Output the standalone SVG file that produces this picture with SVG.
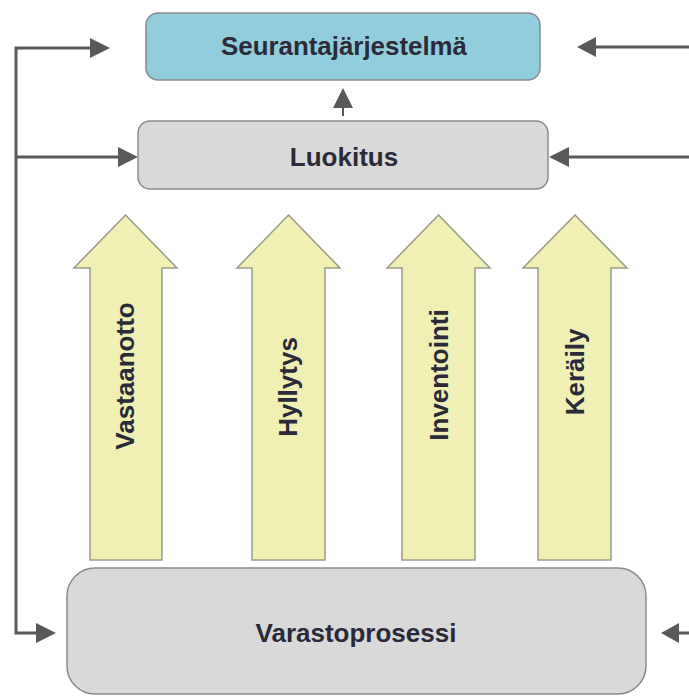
<svg xmlns="http://www.w3.org/2000/svg" width="689" height="696" viewBox="0 0 689 696">
<defs>
<style>
.lbl{font-family:"Liberation Sans",Arial,sans-serif;font-weight:bold;font-size:26px;fill:#2a2a3a;text-anchor:middle}
.box{stroke:#8a8a8a;stroke-width:1.5}
.blk{fill:#F0F0B4;stroke:#9a9a8a;stroke-width:1.5}
.con{fill:none;stroke:#595959;stroke-width:3}
.head{fill:#595959}
</style>
</defs>
<rect width="689" height="696" fill="#ffffff"/>
<g id="connectors">
<polyline class="con" points="92,48 16,48 16,633 38,633"/>
<line class="con" x1="16" y1="157" x2="120" y2="157"/>
<polygon class="head" points="110,48 90,38 90,58"/>
<polygon class="head" points="138,157 118,147 118,167"/>
<polygon class="head" points="56,633 36,623 36,643"/>
<line class="con" x1="689" y1="47" x2="593" y2="47"/>
<polygon class="head" points="577,47 596,37 596,57"/>
<line class="con" x1="689" y1="157" x2="566" y2="157"/>
<polygon class="head" points="549,157 569,147 569,167"/>
<line class="con" x1="689" y1="633" x2="677" y2="633"/>
<polygon class="head" points="661,633 679,623 679,643"/>
<line x1="343" y1="116" x2="343" y2="104" stroke="#595959" stroke-width="2"/>
<polygon class="head" points="343,88 333,108 353,108"/>
</g>
<g id="seurantajarjestelma">
<rect class="box" x="146" y="13" width="394" height="67" rx="12" fill="#92CDDC" stroke="#7a9aa4"/>
<text class="lbl" x="344" y="55" textLength="246" lengthAdjust="spacingAndGlyphs">Seurantajärjestelmä</text>
</g>
<g id="luokitus">
<rect class="box" x="138" y="121" width="410" height="68" rx="12" fill="#D9D9D9"/>
<text class="lbl" x="344" y="166">Luokitus</text>
</g>
<g id="vastaanotto">
<polygon class="blk" points="125.5,215 177,268 162,268 162,560 90,560 90,268 74,268"/>
<text class="lbl" transform="translate(134,376) rotate(-90)">Vastaanotto</text>
</g>
<g id="hyllytys">
<polygon class="blk" points="288.5,215 340,268 325,268 325,560 252,560 252,268 237,268"/>
<text class="lbl" transform="translate(297,387) rotate(-90)">Hyllytys</text>
</g>
<g id="inventointi">
<polygon class="blk" points="438.5,215 490,268 475,268 475,560 402,560 402,268 387,268"/>
<text class="lbl" transform="translate(448,375) rotate(-90)">Inventointi</text>
</g>
<g id="keraily">
<polygon class="blk" points="575,215 627,268 611,268 611,560 538,560 538,268 523,268"/>
<text class="lbl" transform="translate(584,372) rotate(-90)">Keräily</text>
</g>
<g id="varastoprosessi">
<rect class="box" x="67" y="568" width="579" height="126" rx="28" fill="#D9D9D9"/>
<text class="lbl" x="356" y="642">Varastoprosessi</text>
</g>
</svg>
